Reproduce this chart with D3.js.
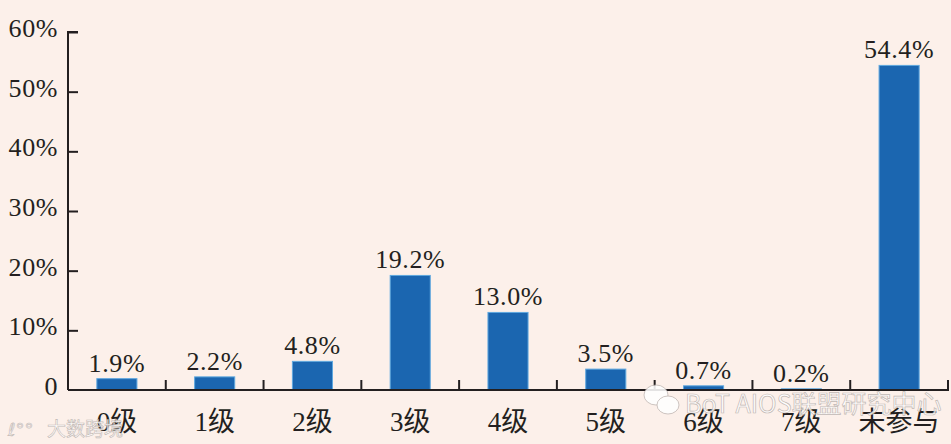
<!DOCTYPE html>
<html><head><meta charset="utf-8">
<script src="https://cdn.jsdelivr.net/npm/d3@7"></script>
<style>
html,body{margin:0;padding:0;background:#fcf0ea;}
svg{display:block;}
</style></head>
<body>
<svg id="chart" width="951" height="444"></svg>
<script>
const categories = ["0级","1级","2级","3级","4级","5级","6级","7级","未参与"];
const values = [1.9, 2.2, 4.8, 19.2, 13.0, 3.5, 0.7, 0.2, 54.4];
const valueLabels = ["1.9%","2.2%","4.8%","19.2%","13.0%","3.5%","0.7%","0.2%","54.4%"];
const yTicks = [0,10,20,30,40,50,60];
const yTickLabels = ["0","10%","20%","30%","40%","50%","60%"];

(function(){
const svg = d3.select("#chart");
const W = 951, H = 444;
const mLeft = 68, mRight = 948, mTop = 32, mBottom = 390;
const ink = "#231f20";
const numFont = "'Liberation Serif','DejaVu Serif',serif";
const cjkFont = "'Liberation Serif','Noto Sans CJK SC',serif";

svg.append("rect").attr("width", W).attr("height", H).attr("fill", "#fcf0ea");

const x = d3.scaleBand().domain(categories).range([mLeft, mRight]).paddingInner(0.59).paddingOuter(0.295);
const xb = d3.scaleBand().domain(categories).range([mLeft, mRight]);
const y = d3.scaleLinear().domain([0, 60]).range([mBottom, mTop]);

svg.selectAll("rect.bar").data(values).enter().append("rect")
  .attr("class","bar")
  .attr("x", (d,i) => x(categories[i]))
  .attr("width", x.bandwidth())
  .attr("y", d => y(d))
  .attr("height", d => mBottom - y(d))
  .attr("fill", "#1b66b0")
  .attr("stroke", "#5fa8df")
  .attr("stroke-width", 1);

svg.selectAll("text.val").data(valueLabels).enter().append("text")
  .attr("class","val")
  .attr("x", (d,i) => x(categories[i]) + x.bandwidth()/2)
  .attr("y", (d,i) => y(values[i]) - 7)
  .attr("text-anchor","middle")
  .attr("font-family", numFont)
  .attr("font-size", 26)
  .attr("letter-spacing", 0.6)
  .attr("fill", ink)
  .text(d => d);

const yAxis = d3.axisRight(y).tickValues(yTicks).tickSize(10).tickFormat("");
const yg = svg.append("g").attr("transform", `translate(${mLeft},0)`).call(yAxis);
yg.select(".domain").attr("d", `M10,${mTop}H0V${mBottom}`).attr("stroke", ink).attr("stroke-width", 2);
yg.selectAll(".tick line").attr("stroke", ink).attr("stroke-width", 2);
yg.selectAll(".tick").filter(d => d === 0).remove();

svg.selectAll("text.ytl").data(yTicks).enter().append("text")
  .attr("class","ytl")
  .attr("x", 58)
  .attr("y", d => y(d) + 5)
  .attr("text-anchor","end")
  .attr("font-family", numFont)
  .attr("font-size", 26)
  .attr("letter-spacing", 0.6)
  .attr("fill", ink)
  .text((d,i) => yTickLabels[i]);

svg.append("line")
  .attr("x1", mLeft).attr("x2", mRight + 1).attr("y1", mBottom).attr("y2", mBottom)
  .attr("stroke", ink).attr("stroke-width", 2);
const boundaries = categories.slice(1).map(c => xb(c)).concat([mRight]);
svg.selectAll("line.xt").data(boundaries).enter().append("line")
  .attr("class","xt")
  .attr("x1", d => d).attr("x2", d => d)
  .attr("y1", mBottom).attr("y2", mBottom - 10)
  .attr("stroke", ink).attr("stroke-width", 2);

svg.selectAll("text.cat").data(categories).enter().append("text")
  .attr("class","cat")
  .attr("x", d => xb(d) + xb.bandwidth()/2)
  .attr("y", 431)
  .attr("text-anchor","middle")
  .attr("font-family", cjkFont)
  .attr("font-size", 27)
  .attr("fill", ink)
  .text(d => d);

const wm = svg.append("g").attr("opacity", 0.88);
wm.append("text").attr("x", 47).attr("y", 436)
  .attr("font-family","'Noto Sans CJK SC',sans-serif").attr("font-size", 19)
  .attr("fill","#ffffff").attr("stroke","#b9b0ac").attr("stroke-width",0.6)
  .text("大数跨境");
wm.append("text").attr("x", 8).attr("y", 436)
  .attr("font-family","'DejaVu Sans',sans-serif").attr("font-size", 18)
  .attr("fill","#ffffff").attr("stroke","#b9b0ac").attr("stroke-width",0.6)
  .text("ℓ°°");
wm.append("text").attr("x", 685).attr("y", 413)
  .attr("font-family","'Noto Sans CJK SC',sans-serif").attr("font-size", 25)
  .attr("fill","#ffffff").attr("stroke","#b9b0ac").attr("stroke-width",0.7)
  .text("BoT AIOS联盟研究中心");
const wc = wm.append("g").attr("fill","#ffffff").attr("stroke","#b9b0ac").attr("stroke-width",0.8);
wc.append("ellipse").attr("cx", 656).attr("cy", 395).attr("rx", 12).attr("ry", 10);
wc.append("ellipse").attr("cx", 668).attr("cy", 405).attr("rx", 11).attr("ry", 9);
})();
</script>
</body></html>
